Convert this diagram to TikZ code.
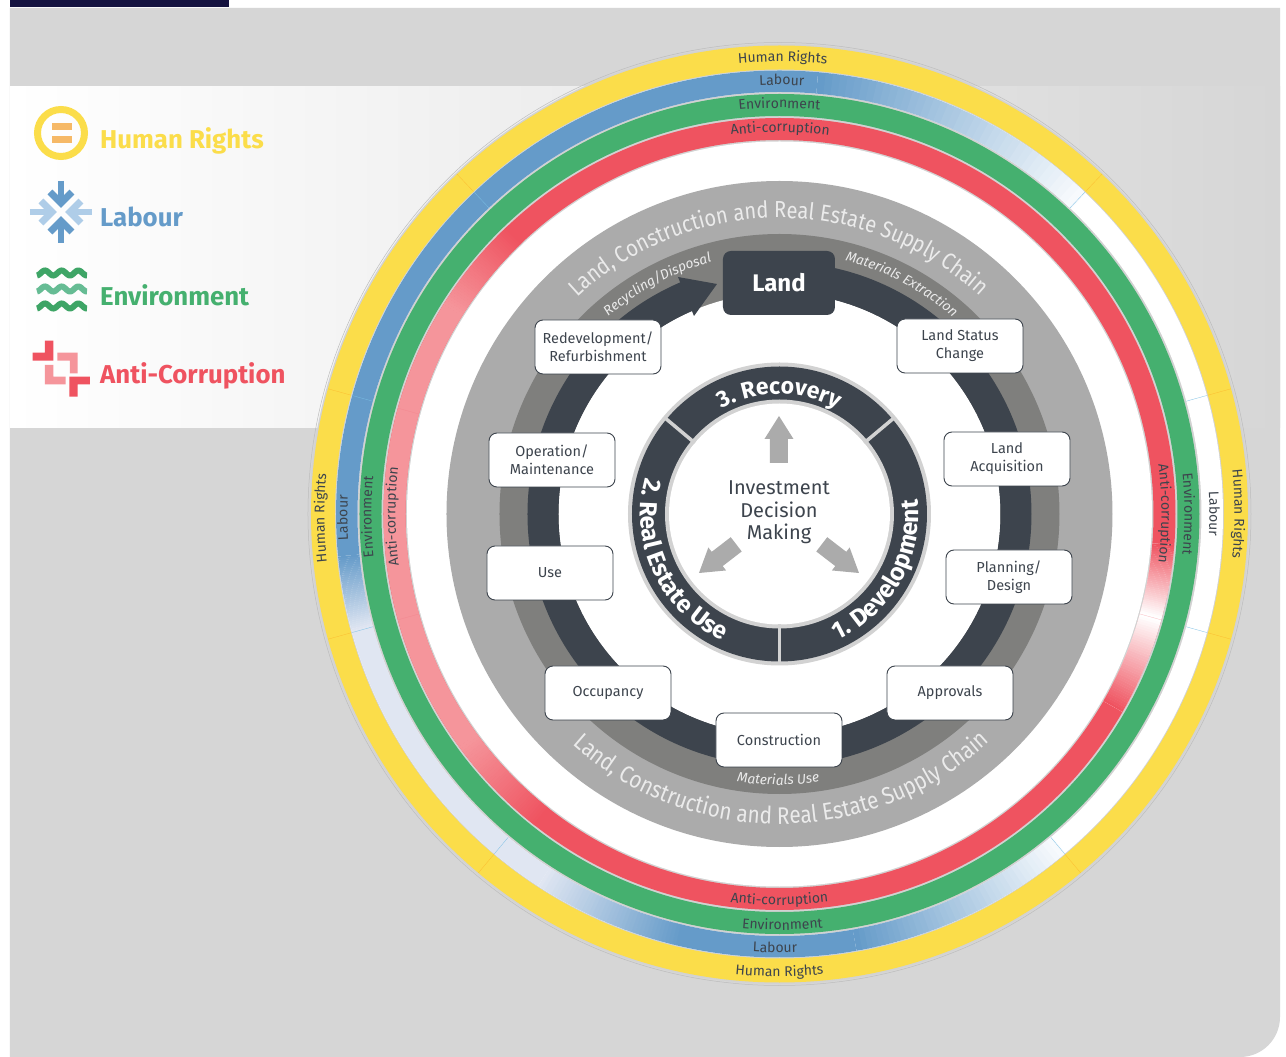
\documentclass[tikz,border=0pt]{standalone}
\usepackage{fontspec}
\setmainfont{Fira Sans}
\newfontfamily\bandfamily[FakeStretch=0.865]{Fira Sans}
\usetikzlibrary{decorations.text}

\definecolor{panelgrey}{HTML}{D6D6D6}
\definecolor{sepgrey}{HTML}{D2D2D2}
\definecolor{navy}{HTML}{14123F}
\definecolor{slate}{HTML}{3D444D}
\definecolor{hryellow}{HTML}{FBDD4A}
\definecolor{labblue}{HTML}{659BC9}
\definecolor{labpale}{HTML}{E0E6F2}
\definecolor{labfade}{HTML}{F7FAFD}
\definecolor{labsoft}{HTML}{AFCDE8}
\definecolor{envgreen}{HTML}{45B06F}
\definecolor{envdark}{HTML}{3EA566}
\definecolor{envsoft}{HTML}{66BC94}
\definecolor{acred}{HTML}{EF5360}
\definecolor{acpink}{HTML}{F5959B}
\definecolor{hrorange}{HTML}{F6B967}
\definecolor{midgrey}{HTML}{ABABAB}
\definecolor{deepgrey}{HTML}{7F7F7D}

\newcommand{\ringfont}{\fontsize{14}{14}\selectfont\color{slate}}
\newcommand{\bandfont}{\fontsize{24}{24}\selectfont\bandfamily\color{white!92!black}}
\newcommand{\bandfonttop}{\fontsize{23.2}{23.2}\selectfont\bandfamily\color{white!92!black}}
\newcommand{\flowfont}{\fontsize{13.7}{13.7}\selectfont\itshape\color{white!92!black}}
\newcommand{\phasefont}{\fontsize{23}{23}\selectfont\bfseries\color{white}}
\newcommand{\phasefontb}{\fontsize{24.5}{24.5}\selectfont\bfseries\color{white}}

\newcommand{\cwtext}[4]{\path[decorate,decoration={text along path,text align=center,text={|#3|#4}}] (#2+85:#1) arc (#2+85:#2-85:#1);}
\newcommand{\ccwtext}[4]{\path[decorate,decoration={text along path,text align=center,text={|#3|#4}}] (#2-85:#1) arc (#2-85:#2+85:#1);}

\newcommand{\fadearc}[6]{%
  \foreach \i in {0,...,39}{%
    \pgfmathsetmacro{\afrom}{#3+(#4-#3)*\i/40}
    \pgfmathsetmacro{\ato}{#3+(#4-#3)*(\i+1.15)/40}
    \pgfmathtruncatemacro{\mixval}{100-\i*100/39}
    \draw[line width=#2,#5!\mixval!#6] (\afrom:#1) arc (\afrom:\ato:#1);
  }}

\tikzset{
  stagebox/.style={draw=slate,fill=white,rounded corners=8pt,line width=0.9pt,minimum width=126pt,minimum height=54pt,
    align=center,text=slate,font=\fontsize{14.5}{18}\selectfont,inner sep=0pt},
  legendtext/.style={anchor=base west,inner sep=0pt,font=\fontsize{25.8}{25.8}\selectfont\bfseries}
}

\begin{document}
\begin{tikzpicture}[x=1pt,y=1pt]
  \useasboundingbox (-779.5,-543) rectangle (506.5,514);
  \fill[white] (-779.5,-543) rectangle (506.5,514);
  \fill[navy] (-769.5,507) rectangle (-550.5,514);
  \fill[panelgrey] (-769.5,506) -- (500.5,506) -- (500.5,-503) arc (0:-90:40) -- (-769.5,-543) -- cycle;
  \shade[left color=white,right color=panelgrey] (-769.5,86) rectangle (500.5,427);

  \draw[sepgrey!90!black,line width=0.5pt] (0,0) circle (471.5);
  \fill[sepgrey] (0,0) circle (470);

  \draw[hryellow,line width=24] (0,0) circle (456.5);

  \draw[white,line width=21.5] (0,0) circle (432.75);
  \draw[labblue,line width=21.5] (85:432.75) arc (85:185.5:432.75);
  \fadearc{432.75}{21.5}{185.5}{195.5}{labblue}{labpale}
  \draw[labpale,line width=21.5] (195.5:432.75) arc (195.5:237:432.75);
  \fadearc{432.75}{21.5}{237}{257}{labpale}{labblue}
  \draw[labblue,line width=21.5] (257:432.75) arc (257:280:432.75);
  \fadearc{432.75}{21.5}{280}{310}{labblue}{labfade}
  \fadearc{432.75}{21.5}{85}{46.5}{labblue}{labfade}

  \draw[envgreen,line width=22] (0,0) circle (409);

  \draw[acred,line width=22] (0,0) circle (385);
  \draw[white,line width=22] (-4.5:385) arc (-4.5:-30:385);
  \fadearc{385}{22}{-4.5}{-15.5}{acred}{white}
  \fadearc{385}{22}{-30}{-15.5}{acred}{white}
  \draw[acpink,line width=22] (148:385) arc (148:216:385);
  \fadearc{385}{22}{133.5}{148}{acred}{acpink}
  \fadearc{385}{22}{232}{216}{acred}{acpink}

  \foreach \a in {46.5,15.5,-15.5,-50,133.5,164.5,195.5,230}{
    \draw[orange!35!hryellow,line width=0.3pt] (\a:444.5) -- (\a:468.5);
    \draw[cyan!35!labsoft,line width=0.3pt] (\a:422) -- (\a:443.5);
  }
  \foreach \a in {164.5,195.5}
    \draw[acred!70!white,line width=0.3pt] (\a:374) -- (\a:396);
  \draw[acred!40!white,line width=0.3pt] (-15.5:374) -- (-15.5:396);

  \fill[white] (0,0) circle (372.5);
  \fill[midgrey] (0,0) circle (333);
  \fill[deepgrey] (0,0) circle (280);
  \fill[white] (0,0) circle (221);
  \draw[slate,line width=31] (90:236.5) arc (90:-247:236.5);
  \fill[slate] (-101.5,237) -- (-62.5,230) -- (-85.5,198) -- cycle;

  \fill[sepgrey] (0,0) circle (151.5);
  \fill[slate] (0,0) circle (147.5);
  \fill[sepgrey] (0,0) circle (114.5);
  \fill[white] (0,0) circle (110.5);
  \foreach \a in {40,140,270}
    \draw[sepgrey,line width=3.5] (\a:110.5) -- (\a:151);

  \foreach \tipx/\tipy/\ang in {-0.5/98/0,79.5/-59/-127.6,-80.5/-59/127.6}
    \fill[midgrey,shift={(\tipx,\tipy)},rotate=\ang] (0,0) -- (14.5,-23) -- (9,-23) -- (9,-47) -- (-9,-47) -- (-9,-23) -- (-14.5,-23) -- cycle;

  \node[align=center,text=slate,font=\fontsize{20}{22.5}\selectfont] (centretext) at (-0.5,1.5) {Investment\\Decision\\Making};

  \cwtext{120}{90}{\phasefont}{3. Recovery}
  \ccwtext{139}{-29.6}{\phasefontb}{1. Development}
  \ccwtext{139}{205.3}{\phasefontb}{2. Real Estate Use}

  \cwtext{296}{90.2}{\bandfonttop}{Land, Construction and Real Estate Supply Chain}
  \ccwtext{310}{270.4}{\bandfont}{Land, Construction and Real Estate Supply Chain}
  \cwtext{261}{118}{\flowfont}{Recycling/Disposal}
  \cwtext{262}{62}{\flowfont}{Materials Extraction}
  \ccwtext{271}{269.7}{\flowfont}{Materials Use}

  \node[fill=slate,rounded corners=8pt,minimum width=112pt,minimum height=64pt,text=white,inner sep=0pt,font=\fontsize{24}{24}\selectfont\bfseries] (land) at (-0.5,231) {Land};
  \node[stagebox] (status) at (180.5,168) {Land Status\\Change};
  \node[stagebox] (acquisition) at (227.5,55) {Land\\Acquisition};
  \node[stagebox] (planning) at (229.5,-63) {Planning/\\Design};
  \node[stagebox] (approvals) at (170.5,-179) {Approvals};
  \node[stagebox] (construction) at (-0.5,-226) {Construction};
  \node[stagebox] (occupancy) at (-171.5,-179) {Occupancy};
  \node[stagebox] (use) at (-229.5,-59) {Use};
  \node[stagebox] (operation) at (-227.5,54) {Operation/\\Maintenance};
  \node[stagebox] (redevelopment) at (-181.5,167) {Redevelopment/\\Refurbishment};

  \cwtext{452.5}{89.6}{\ringfont}{Human Rights}
  \cwtext{429}{89.7}{\ringfont}{Labour}
  \cwtext{406}{90}{\ringfont}{Environment}
  \cwtext{382}{89.9}{\ringfont}{Anti-corruption}
  \cwtext{455}{0}{\ringfont}{Human Rights}
  \cwtext{430}{0}{\ringfont}{Labour}
  \cwtext{405}{0}{\ringfont}{Environment}
  \cwtext{382}{0}{\ringfont}{Anti-corruption}
  \cwtext{455}{180.5}{\ringfont}{Human Rights}
  \cwtext{432}{180.5}{\ringfont}{Labour}
  \cwtext{408}{180.4}{\ringfont}{Environment}
  \cwtext{384}{180.4}{\ringfont}{Anti-corruption}
  \ccwtext{462.5}{270}{\ringfont}{Human Rights}
  \ccwtext{438.5}{269.4}{\ringfont}{Labour}
  \ccwtext{416}{270.4}{\ringfont}{Environment}
  \ccwtext{391}{270}{\ringfont}{Anti-corruption}

  \begin{scope}[shift={(-779.5,514)},y=-1pt]
    \draw[hryellow,line width=7] (61,133) circle (23.5);
    \fill[hrorange] (52,123) rectangle (72,130);
    \fill[hrorange] (52,136) rectangle (72,143);

    \foreach \ang/\col in {0/labblue,180/labblue,90/labsoft,270/labsoft}{
      \begin{scope}[shift={(61,212)},rotate=\ang]
        \draw[\col,line width=6.5] (0,-31) -- (0,-10);
        \draw[\col,line width=7,miter limit=10] (-11,-20) -- (0,-9) -- (11,-20);
      \end{scope}
    }

    \foreach \yy/\col in {273/envdark,289/envsoft,306/envdark}
      \draw[\col,line width=6] plot[domain=37:87,samples=50] (\x,{\yy-2.5*cos((\x-45)*21.6)});

    \fill[acred] (32.7,352.7) -- (45,352.7) -- (45,340.7) -- (53.3,340.7) -- (53.3,360.7) -- (32.7,360.7) -- cycle;
    \fill[acpink] (57.3,352.7) -- (77.7,352.7) -- (77.7,373.3) -- (70,373.3) -- (70,360.7) -- (57.3,360.7) -- cycle;
    \fill[acpink] (45,365) -- (53.3,365) -- (53.3,376.7) -- (65.7,376.7) -- (65.7,384.3) -- (45,384.3) -- cycle;
    \fill[acred] (69.3,376.7) -- (90,376.7) -- (90,384.3) -- (77.7,384.3) -- (77.7,396.7) -- (69.3,396.7) -- cycle;

    \node[legendtext,text=hryellow] (hrlabel) at (100,149) {Human Rights};
    \node[legendtext,text=labblue] (lablabel) at (100,227) {Labour};
    \node[legendtext,text=envgreen] (envlabel) at (100,306) {Environment};
    \node[legendtext,text=acred] (aclabel) at (100,384) {Anti-Corruption};
  \end{scope}
\end{tikzpicture}
\end{document}
